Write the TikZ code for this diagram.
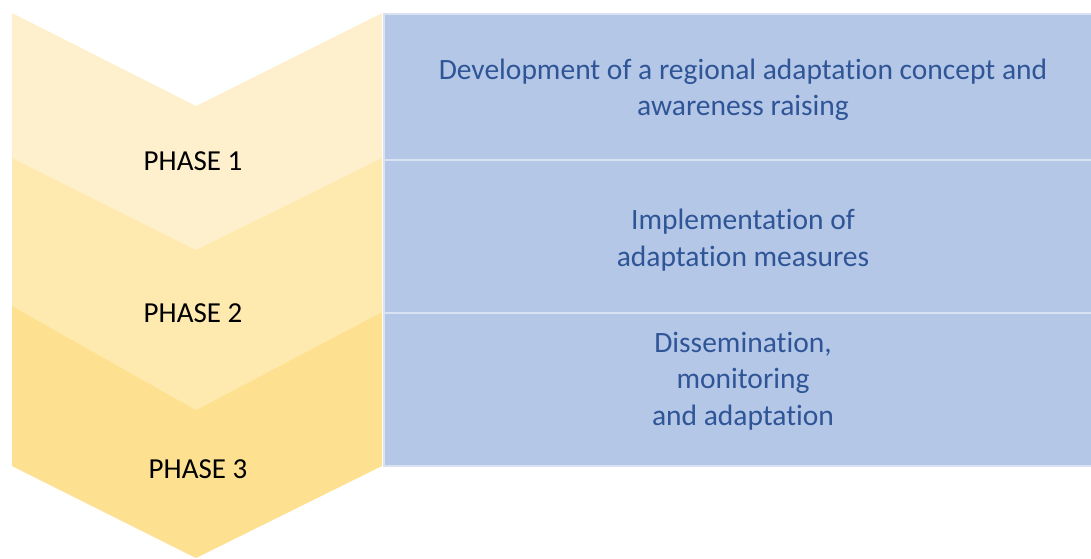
\documentclass[tikz,border=0pt]{standalone}
\usepackage{fontspec}
\setmainfont{Carlito}[Ligatures={NoCommon,NoRare}]
\definecolor{chA}{HTML}{FEF0CD}
\definecolor{chB}{HTML}{FEE9AE}
\definecolor{chC}{HTML}{FEE190}
\definecolor{boxfill}{HTML}{B4C7E7}
\definecolor{boxline}{HTML}{D9E2F3}
\definecolor{bluetext}{HTML}{2F5597}
\tikzset{
  phaselabel/.style={font=\fontsize{29}{34}\selectfont, text=black, inner sep=0pt},
  rowbox/.style={fill=boxfill, draw=boxline, line width=2.5pt},
  rowtext/.style={font=\fontsize{29.5}{36.5}\selectfont, text=bluetext, align=center, inner sep=0pt},
}
\begin{document}
\begin{tikzpicture}[x=1pt,y=-1pt]
\useasboundingbox (0,0) rectangle (1091,558);
% chevrons (drawn bottom first)
\fill[chC] (12,300) -- (196,400) -- (382,300) -- (382,466) -- (196,558) -- (12,466) -- cycle;
\fill[chB] (12,150) -- (196,246) -- (382,150) -- (382,312) -- (196,410) -- (12,306) -- cycle;
\fill[chA] (12,13) -- (196,106) -- (382,13) -- (382,158) -- (196,250) -- (12,158) -- cycle;
% boxes
\draw[rowbox] (384,14) rectangle (1094,160);
\draw[rowbox] (384,160) rectangle (1094,313);
\draw[rowbox] (384,313) rectangle (1094,466);
% labels
\node[phaselabel] (p1) at (193,161) {PHASE 1};
\node[phaselabel] (p2) at (193,313) {PHASE 2};
\node[phaselabel] (p3) at (198,469) {PHASE 3};
\node[rowtext] (t1) at (743,90) {Development of a regional adaptation concept and\\awareness raising};
\node[rowtext] (t2) at (743,240) {Implementation of\\adaptation measures};
\node[rowtext] (t3) at (743,381) {Dissemination,\\monitoring\\and adaptation};
\end{tikzpicture}
\end{document}
